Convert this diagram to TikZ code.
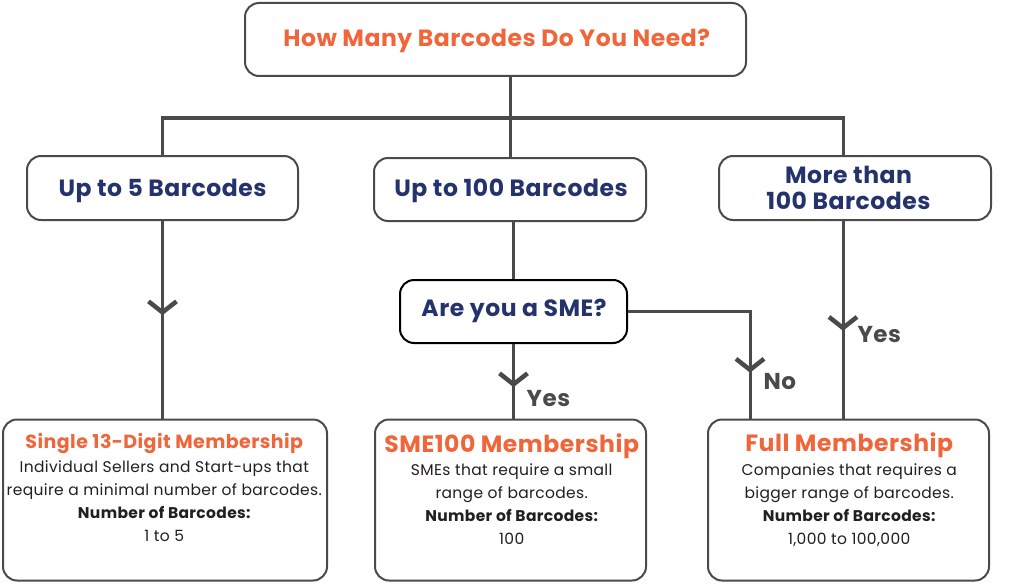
\documentclass[tikz,border=0pt]{standalone}
\usepackage{fontspec}
\setmainfont{Poppins}[LetterSpace=2.3]
\usetikzlibrary{arrows.meta,decorations.markings}
\definecolor{orng}{HTML}{F0663A}
\definecolor{navy}{HTML}{24336B}
\definecolor{linegray}{HTML}{4A4A4A}
\definecolor{bodyc}{HTML}{231F20}
\begin{document}
\begin{tikzpicture}[x=1pt,y=-1pt,
  box/.style={draw=linegray, line width=2pt, rounded corners=14pt, fill=white, inner sep=0pt},
  conn/.style={color=linegray, line width=3pt, line join=miter},
  chev/.style={postaction={decorate}, decoration={markings, mark=at position #1 with {\arrow{Straight Barb[length=11pt,width=28pt,line width=4.5pt]}}}},
  txt/.style={inner sep=0pt, anchor=base, align=center},
  qfont/.style={font=\fontsize{23.5}{26}\selectfont\bfseries, text=navy},
  tfont/.style={font=\fontsize{23.5}{26}\selectfont\bfseries, text=orng},
  bfont/.style={font=\fontsize{15.5}{23}\selectfont, text=bodyc},
  lbl/.style={inner sep=0pt, anchor=base west, font=\fontsize{23}{26}\selectfont\bfseries, text=linegray}
]
\useasboundingbox (0,0) rectangle (1024,583);

% boxes
\node[box, minimum width=501pt, minimum height=73pt] (top) at (495.5,39.5) {};
\node[box, minimum width=271pt, minimum height=64pt] (up5) at (162.5,188) {};
\node[box, minimum width=272pt, minimum height=63pt] (up100) at (510,189.5) {};
\node[box, minimum width=272pt, minimum height=64pt] (more) at (855,188) {};
\node[box, draw=black, minimum width=227pt, minimum height=63pt] (sme) at (513.5,311.5) {};
\node[box, minimum width=324pt, minimum height=161pt] (single) at (165,500) {};
\node[box, minimum width=271pt, minimum height=161pt] (sme100) at (510.5,500) {};
\node[box, minimum width=281pt, minimum height=161pt] (full) at (848.5,500) {};

% helper coordinates
\coordinate (bar) at (0,118);
\coordinate (mx) at (843,0);
\coordinate (nx) at (750,0);

% connectors
\draw[conn] (up100.north |- top.south) -- (up100.north);
\draw[conn] (up5.north) -- (up5.north |- bar) -- (mx |- bar) -- (mx |- more.north);
\draw[conn, chev=0.477] (up5.south) -- (up5.south |- single.north);
\draw[conn] (sme.north |- up100.south) -- (sme.north);
\draw[conn, chev=0.58] (sme.south) -- (sme.south |- sme100.north);
\draw[conn, chev=0.80] (sme.east) -| (nx |- full.north);
\draw[conn, chev=0.556] (mx |- more.south) -- (mx |- full.north);

% texts (multi-line nodes: base = last line's baseline)
\node[txt, tfont] (toptxt) at (496.7,46.7) {How Many Barcodes Do You Need?};
\node[txt, qfont] (up5txt) at (162.5,196.5) {Up to 5 Barcodes};
\node[txt, qfont] (up100txt) at (511,196.5) {Up to 100 Barcodes};
\node[txt, qfont] (moretxt) at (848.5,209.3) {More than\\100 Barcodes};
\node[txt, qfont] (smetxt) at (514,316.7) {Are you a SME?};

\node[txt, tfont, font=\fontsize{19}{22}\selectfont\bfseries] (singlet) at (164.3,448.3) {Single 13-Digit Membership};
\node[txt, bfont] (singleb) at (164.3,541) {Individual Sellers and Start-ups that\\require a minimal number of barcodes.\\{\bfseries Number of Barcodes:}\\1 to 5};

\node[txt, tfont] (sme100t) at (511.7,452.3) {SME100 Membership};
\node[txt, bfont] (sme100b) at (511.7,544) {SMEs that require a small\\range of barcodes.\\{\bfseries Number of Barcodes:}\\100};

\node[txt, tfont] (fullt) at (849.2,451.7) {Full Membership};
\node[txt, bfont] (fullb) at (849.2,544.3) {Companies that requires a\\bigger range of barcodes.\\{\bfseries Number of Barcodes:}\\1,000 to 100,000};

% labels
\node[lbl] (yes1) at (526.5,406.7) {Yes};
\node[lbl] (no1) at (763.3,389.3) {No};
\node[lbl] (yes2) at (857.3,342.7) {Yes};
\end{tikzpicture}
\end{document}
